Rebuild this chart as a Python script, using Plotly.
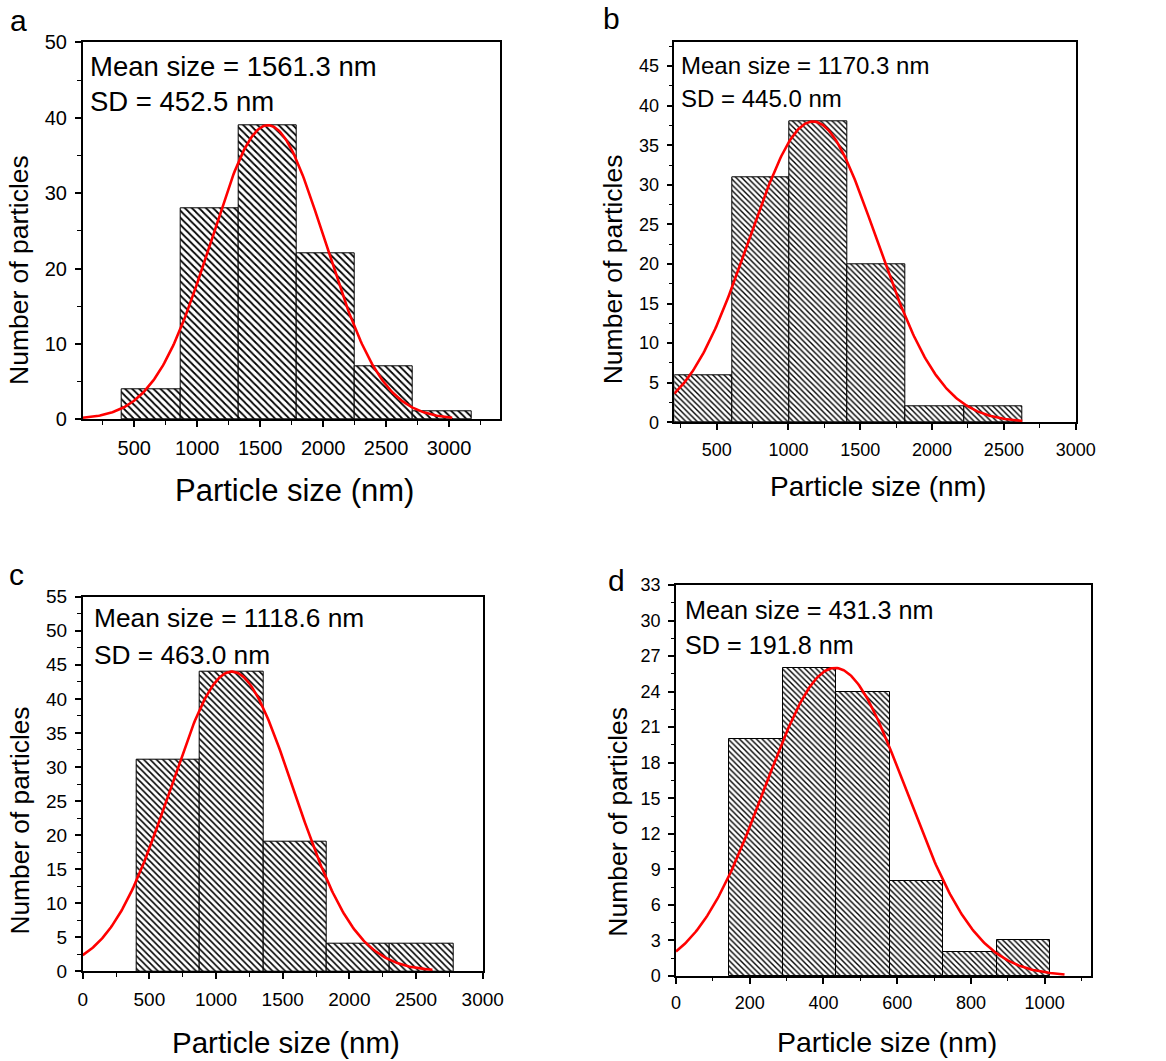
import numpy as np
import plotly.graph_objects as go

W, H = 1166, 1061

# ---------------- data ----------------
# panel a
a_edges = [402, 865, 1328, 1791, 2252, 2714, 3177]
a_counts = [4, 28, 39, 22, 7, 1]
a_mean, a_sd, a_peak = 1561.3, 452.5, 39
a_fit_range = [90, 3025]

# panel b
b_edges = [205, 609, 1009, 1412, 1816, 2224, 2628]
b_counts = [6, 31, 38, 20, 2, 2]
b_mean, b_sd, b_peak = 1170.3, 445.0, 38
b_fit_range = [205, 2628]

# panel c
c_edges = [405, 880, 1355, 1830, 2305, 2783]
c_counts = [31, 44, 19, 4, 4]
c_mean, c_sd, c_peak = 1118.6, 463.0, 44
c_fit_range = [0, 2623]

# panel d
d_edges = [145, 290, 435, 580, 725, 870, 1015]
d_counts = [20, 26, 24, 8, 2, 3]
d_mean, d_sd, d_peak = 431.3, 191.8, 26
d_fit_range = [0, 1054]

panel_letters = ["a", "b", "c", "d"]
x_title = "Particle size (nm)"
y_title = "Number of particles"

# ---------------- layout specs (pixels) ----------------
panels = [
    dict(edges=a_edges, counts=a_counts, mean=a_mean, sd=a_sd, peak=a_peak, fit=a_fit_range,
         px=[82.7, 500.0], py=[42.3, 419.3], xr=[90, 3405], yr=[0, 50],
         xdt=500, xtick0=0, xminor=250, ydt=10, yminor=5,
         tick_fs=20, xt_fs=31, yt_fs=26.5, an_fs=27.5, hatch=5,
         xt_pos=(294.5, 490), yt_pos=(19, 270), an_x=88.3, an_y=(66.7, 101.7),
         letter_pos=(18.3, 20)),
    dict(edges=b_edges, counts=b_counts, mean=b_mean, sd=b_sd, peak=b_peak, fit=b_fit_range,
         px=[674.3, 1075.7], py=[42.3, 422.3], xr=[205, 3000], yr=[0, 48],
         xdt=500, xtick0=0, xminor=250, ydt=5, yminor=2.5,
         tick_fs=18, xt_fs=28, yt_fs=26.5, an_fs=24, hatch=4,
         xt_pos=(878.3, 486.7), yt_pos=(613.3, 269), an_x=679, an_y=(65.7, 98.3),
         letter_pos=(611.7, 18)),
    dict(edges=c_edges, counts=c_counts, mean=c_mean, sd=c_sd, peak=c_peak, fit=c_fit_range,
         px=[82.7, 482.7], py=[596.7, 971.3], xr=[0, 3000], yr=[0, 55],
         xdt=500, xtick0=0, xminor=250, ydt=5, yminor=2.5,
         tick_fs=19, xt_fs=29.5, yt_fs=26.3, an_fs=26.3, hatch=4.5,
         xt_pos=(286.2, 1042), yt_pos=(19.7, 820.8), an_x=92.3, an_y=(618.3, 655),
         letter_pos=(16.7, 574)),
    dict(edges=d_edges, counts=d_counts, mean=d_mean, sd=d_sd, peak=d_peak, fit=d_fit_range,
         px=[676.0, 1090.7], py=[585.0, 976.0], xr=[0, 1125], yr=[0, 33],
         xdt=200, xtick0=0, xminor=100, ydt=3, yminor=1.5,
         tick_fs=18, xt_fs=28.5, yt_fs=26.5, an_fs=25.2, hatch=4,
         xt_pos=(886.7, 1042), yt_pos=(618, 821.7), an_x=682.7, an_y=(610, 645),
         letter_pos=(616.7, 580)),
]

FONT = "Arial, Liberation Sans, Helvetica, sans-serif"

fig = go.Figure()
annotations = []
layout_axes = {}

for i, p in enumerate(panels):
    n = i + 1
    xa = "x" if n == 1 else f"x{n}"
    ya = "y" if n == 1 else f"y{n}"
    edges = np.array(p["edges"], dtype=float)
    centers = (edges[:-1] + edges[1:]) / 2
    widths = np.diff(edges)
    fig.add_trace(go.Bar(
        x=centers, y=p["counts"], width=widths, xaxis=xa, yaxis=ya,
        marker=dict(color="white",
                    line=dict(color="black", width=1),
                    pattern=dict(shape="\\", fgcolor="black", bgcolor="white",
                                 size=p["hatch"], solidity=0.35)),
        showlegend=False, hoverinfo="skip"))
    xs = np.linspace(p["fit"][0], p["fit"][1], 300)
    ys = p["peak"] * np.exp(-0.5 * ((xs - p["mean"]) / p["sd"]) ** 2)
    fig.add_trace(go.Scatter(
        x=xs, y=ys, mode="lines", xaxis=xa, yaxis=ya,
        line=dict(color="#ff0000", width=2.6), showlegend=False, hoverinfo="skip"))

    xdom = [p["px"][0] / W, p["px"][1] / W]
    ydom = [1 - p["py"][1] / H, 1 - p["py"][0] / H]
    common = dict(showline=True, mirror=True, linecolor="black", linewidth=1.5,
                  ticks="outside", ticklen=6, tickwidth=1.5, tickcolor="black",
                  showgrid=False, zeroline=False, automargin=False,
                  tickfont=dict(family=FONT, size=p["tick_fs"], color="black"))
    layout_axes["xaxis" if n == 1 else f"xaxis{n}"] = dict(
        domain=xdom, range=p["xr"], anchor=ya, tick0=p["xtick0"], dtick=p["xdt"],
        minor=dict(dtick=p["xminor"], tick0=0, ticks="outside", ticklen=3.5,
                   tickwidth=1.2, tickcolor="black"),
        ticklabelstandoff=4, **common)
    layout_axes["yaxis" if n == 1 else f"yaxis{n}"] = dict(
        domain=ydom, range=p["yr"], anchor=xa, tick0=0, dtick=p["ydt"],
        minor=dict(dtick=p["yminor"], tick0=0, ticks="outside", ticklen=3.5,
                   tickwidth=1.2, tickcolor="black"),
        ticklabelstandoff=4, **common)

    annotations.append(dict(
        x=p["xt_pos"][0] / W, y=1 - p["xt_pos"][1] / H, xref="paper", yref="paper",
        text=x_title, showarrow=False, xanchor="center", yanchor="middle",
        font=dict(family=FONT, size=p["xt_fs"], color="black")))
    annotations.append(dict(
        x=p["yt_pos"][0] / W, y=1 - p["yt_pos"][1] / H, xref="paper", yref="paper",
        text=y_title, showarrow=False, xanchor="center", yanchor="middle", textangle=-90,
        font=dict(family=FONT, size=p["yt_fs"], color="black")))
    annotations.append(dict(
        x=p["an_x"] / W, y=1 - p["an_y"][0] / H, xref="paper", yref="paper",
        text=f"Mean size = {p['mean']:.1f} nm", showarrow=False, xanchor="left", yanchor="middle",
        font=dict(family=FONT, size=p["an_fs"], color="black")))
    annotations.append(dict(
        x=p["an_x"] / W, y=1 - p["an_y"][1] / H, xref="paper", yref="paper",
        text=f"SD = {p['sd']:.1f} nm", showarrow=False, xanchor="left", yanchor="middle",
        font=dict(family=FONT, size=p["an_fs"], color="black")))
    annotations.append(dict(
        x=p["letter_pos"][0] / W, y=1 - p["letter_pos"][1] / H, xref="paper", yref="paper",
        text=panel_letters[i], showarrow=False, xanchor="center", yanchor="middle",
        font=dict(family=FONT, size=30, color="black")))

fig.update_layout(
    template="none",
    width=W, height=H, autosize=False, margin=dict(l=0, r=0, t=0, b=0, pad=0),
    paper_bgcolor="white", plot_bgcolor="white",
    bargap=0, showlegend=False, annotations=annotations, **layout_axes)

fig.write_html(
    "out.html",
    post_script="document.body.style.margin='0';document.body.style.padding='0';"
                "document.body.style.overflow='hidden';",
)
